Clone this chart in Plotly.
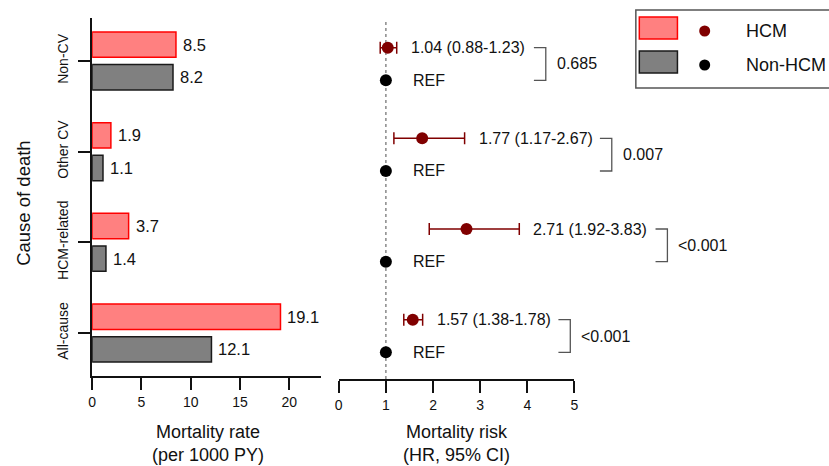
import plotly.graph_objects as go

# ---------------- data ----------------
categories = ["All-cause", "HCM-related", "Other CV", "Non-CV"]
rate_hcm = [19.1, 3.7, 1.9, 8.5]
rate_non = [12.1, 1.4, 1.1, 8.2]
hr = [1.57, 2.71, 1.77, 1.04]
hr_lo = [1.38, 1.92, 1.17, 0.88]
hr_hi = [1.78, 3.83, 2.67, 1.23]
p_values = ["<0.001", "<0.001", "0.007", "0.685"]
ref_value = 1
rate_ticks = [0, 5, 10, 15, 20]
hr_ticks = [0, 1, 2, 3, 4, 5]
# bracket left x (in HR units) placed after each label
bracket_x = [4.66, 6.72, 5.54, 4.14]

# ---------------- styling ----------------
W, H = 829, 466
FONT = "Liberation Sans, Arial, sans-serif"
TXT = "#111111"
RED_FILL, RED_LINE = "#FF8080", "#FF0000"
GRAY_FILL, GRAY_LINE = "#808080", "#1a1a1a"
DARKRED = "#800000"
OFF = 0.18  # offset of each series from category centre
BARW = 0.28

def px(x):
    return x / W

def py(y):
    return 1 - y / H

pos = list(range(len(categories)))
pos_hcm = [p + OFF for p in pos]
pos_ref = [p - OFF for p in pos]

yrange = [-0.474, 3.474]
x2dom = [px(338), px(576)]
x3dom = [px(338), 1.0]
x3max = 5 * (x3dom[1] - x3dom[0]) / (x2dom[1] - x2dom[0])
ydom_r = [py(379), py(21)]

fig = go.Figure()

# left bar chart
fig.add_trace(go.Bar(y=pos, x=rate_hcm, orientation="h", width=BARW, offset=0.04,
                     marker=dict(color=RED_FILL, line=dict(color=RED_LINE, width=1.5)),
                     xaxis="x", yaxis="y", name="HCM"))
fig.add_trace(go.Bar(y=pos, x=rate_non, orientation="h", width=BARW, offset=-0.04 - BARW,
                     marker=dict(color=GRAY_FILL, line=dict(color=GRAY_LINE, width=1.5)),
                     xaxis="x", yaxis="y", name="Non-HCM"))

# forest plot
fig.add_trace(go.Scatter(
    x=hr, y=pos_hcm, mode="markers",
    marker=dict(color=DARKRED, size=12),
    error_x=dict(type="data", symmetric=False,
                 array=[h - m for h, m in zip(hr_hi, hr)],
                 arrayminus=[m - l for m, l in zip(hr, hr_lo)],
                 color=DARKRED, thickness=1.5, width=6),
    xaxis="x3", yaxis="y3", cliponaxis=False))
fig.add_trace(go.Scatter(
    x=[ref_value] * len(pos), y=pos_ref, mode="markers",
    marker=dict(color="black", size=12),
    xaxis="x3", yaxis="y3", cliponaxis=False))
# empty trace to carry the visible HR axis
fig.add_trace(go.Scatter(x=[], y=[], xaxis="x2", yaxis="y3", showlegend=False))

annotations = []
shapes = []

# bar value labels
for p, a, b in zip(pos, rate_hcm, rate_non):
    annotations.append(dict(x=a, y=p + OFF, xref="x", yref="y", text=f"{a:.1f}",
                            xanchor="left", yanchor="middle", xshift=5, showarrow=False,
                            font=dict(size=16.5)))
    annotations.append(dict(x=b, y=p - OFF, xref="x", yref="y", text=f"{b:.1f}",
                            xanchor="left", yanchor="middle", xshift=5, showarrow=False,
                            font=dict(size=16.5)))

# HR labels, REF labels, brackets, p-values
ppu = (576 - 338) / 5.0
arm = 12 / ppu
for p, m, l, h, pv, bx in zip(pos, hr, hr_lo, hr_hi, p_values, bracket_x):
    annotations.append(dict(x=h, y=p + OFF, xref="x3", yref="y3",
                            text=f"{m:.2f} ({l:.2f}-{h:.2f})",
                            xanchor="left", yanchor="middle", xshift=12, showarrow=False,
                            font=dict(size=16)))
    annotations.append(dict(x=ref_value, y=p - OFF, xref="x3", yref="y3", text="REF",
                            xanchor="left", yanchor="middle", xshift=25, showarrow=False,
                            font=dict(size=16)))
    shapes.append(dict(type="path", xref="x3", yref="y3",
                       path=f"M {bx},{p + OFF} L {bx + arm},{p + OFF} L {bx + arm},{p - OFF} L {bx},{p - OFF}",
                       line=dict(color="#555555", width=1.3)))
    annotations.append(dict(x=bx + arm, y=p, xref="x3", yref="y3", text=pv,
                            xanchor="left", yanchor="middle", xshift=9, showarrow=False,
                            font=dict(size=16)))

# reference dotted line
shapes.append(dict(type="line", xref="x3", yref="y3 domain", x0=ref_value, x1=ref_value,
                   y0=0, y1=1, layer="below", line=dict(color="#888888", width=1.5, dash="dot")))

# axis titles
annotations.append(dict(x=px(206), y=py(443), xref="paper", yref="paper",
                        text="Mortality rate<br>(per 1000 PY)", showarrow=False,
                        xanchor="center", yanchor="middle", font=dict(size=18)))
annotations.append(dict(x=px(457), y=py(443), xref="paper", yref="paper",
                        text="Mortality risk<br>(HR, 95% CI)", showarrow=False,
                        xanchor="center", yanchor="middle", font=dict(size=18)))
annotations.append(dict(x=px(19), y=py(203), xref="paper", yref="paper",
                        text="Cause of death", textangle=-90, showarrow=False,
                        xanchor="center", yanchor="middle", font=dict(size=18.5)))

# custom legend
shapes.append(dict(type="rect", xref="paper", yref="paper", x0=px(638), x1=px(860),
                   y0=py(88), y1=py(10), line=dict(color="#555555", width=1.5),
                   fillcolor="white"))
shapes.append(dict(type="rect", xref="paper", yref="paper", x0=px(641.5), x1=px(680),
                   y0=py(39), y1=py(17), line=dict(color=RED_LINE, width=1.5),
                   fillcolor=RED_FILL))
shapes.append(dict(type="rect", xref="paper", yref="paper", x0=px(641.5), x1=px(680),
                   y0=py(73), y1=py(51), line=dict(color=GRAY_LINE, width=1.5),
                   fillcolor=GRAY_FILL))
for yy, col in [(31, DARKRED), (65, "black")]:
    shapes.append(dict(type="circle", xref="paper", yref="paper",
                       xsizemode="pixel", ysizemode="pixel",
                       xanchor=px(707.5), yanchor=py(yy), x0=-5.5, x1=5.5, y0=-5.5, y1=5.5,
                       fillcolor=col, line=dict(color=col, width=0)))
for yy, t in [(31, "HCM"), (65, "Non-HCM")]:
    annotations.append(dict(x=px(747), y=py(yy), xref="paper", yref="paper", text=t,
                            xanchor="left", yanchor="middle", showarrow=False,
                            font=dict(size=18)))

axis_common = dict(showline=True, linewidth=2, linecolor=TXT, ticks="outside",
                   ticklen=12, tickwidth=2, tickcolor=TXT, showgrid=False,
                   zeroline=False, tickfont=dict(size=14, color=TXT))

fig.update_layout(
    width=W, height=H, margin=dict(l=0, r=0, t=0, b=0),
    paper_bgcolor="white", plot_bgcolor="rgba(0,0,0,0)",
    showlegend=False, barmode="overlay",
    font=dict(family=FONT, size=14, color=TXT),
    xaxis=dict(domain=[px(89), px(320)], range=[0, 23.2], tickvals=rate_ticks,
               anchor="y", **axis_common),
    yaxis=dict(domain=[py(376), py(18)], range=yrange, tickvals=pos, ticktext=categories,
               tickangle=-90, anchor="x", ticklabelstandoff=5, **axis_common),
    xaxis2=dict(domain=x2dom, range=[0, 5], tickvals=hr_ticks, anchor="y3", **axis_common),
    xaxis3=dict(domain=x3dom, range=[0, x3max], visible=False, anchor="y3"),
    yaxis3=dict(domain=ydom_r, range=yrange, visible=False, anchor="x3"),
    annotations=annotations, shapes=shapes,
)

fig.write_html("out.html")
